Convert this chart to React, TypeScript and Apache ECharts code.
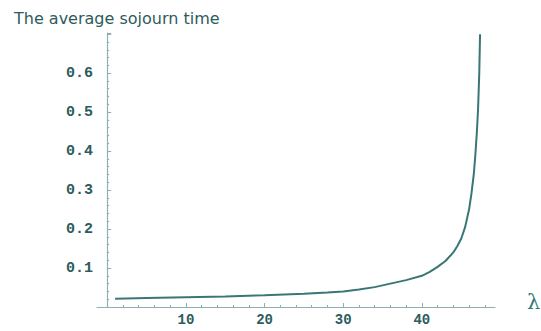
import React, { useEffect, useRef } from "react";
import * as echarts from "echarts";

const lambdaValues = [1, 5, 10, 15, 20, 25, 28, 30, 32, 34, 36, 38, 40, 41, 42, 43, 44, 44.5, 45, 45.5, 46, 46.3, 46.6, 46.8, 47.0, 47.15, 47.3, 47.4];
const sojournValues = [0.021, 0.023, 0.025, 0.027, 0.030, 0.034, 0.037, 0.040, 0.045, 0.051, 0.060, 0.069, 0.080, 0.090, 0.103, 0.118, 0.140, 0.156, 0.175, 0.205, 0.250, 0.290, 0.340, 0.390, 0.450, 0.510, 0.600, 0.700];
const xLabelValues = [10, 20, 30, 40];
const xMinorTickValues = [2, 4, 6, 8, 12, 14, 16, 18, 22, 24, 26, 28, 32, 34, 36, 38, 42, 44, 46, 48];
const yLabelValues = [0.1, 0.2, 0.3, 0.4, 0.5, 0.6];
const titleText = "The average sojourn time";
const xAxisName = "λ";

const axisColor = "#8fb0b0";
const textColor = "#2c5c5c";

export default function App() {
  const ref = useRef<HTMLDivElement>(null);
  useEffect(() => {
    if (!ref.current) return;
    const chart = echarts.init(ref.current, undefined, { renderer: "svg" });
    const data = lambdaValues.map((x, i) => [x, sojournValues[i]]);
    chart.setOption({
      animation: false,
      backgroundColor: "#ffffff",
      title: {
        text: titleText,
        left: 9,
        top: 5,
        textStyle: { fontSize: 16, fontWeight: "normal", fontFamily: "DejaVu Sans", color: textColor },
      },
      grid: { left: 97, right: 46, top: 33, bottom: 24, containLabel: false },
      xAxis: [
        {
          type: "value",
          min: -1.3,
          max: 49.3,
          axisLine: { show: true, onZero: false, lineStyle: { color: axisColor, width: 1.2 } },
          axisTick: { show: true, inside: true, length: 4, customValues: xLabelValues, lineStyle: { color: axisColor } },
          axisLabel: {
            show: true,
            customValues: xLabelValues,
            margin: 6,
            fontFamily: "Liberation Mono",
            fontWeight: "bold",
            fontSize: 14,
            color: textColor,
          },
          splitLine: { show: false },
        },
        {
          type: "value",
          position: "bottom",
          min: -1.3,
          max: 49.3,
          axisLine: { show: false, onZero: false },
          axisTick: { show: true, inside: true, length: 2, customValues: xMinorTickValues, lineStyle: { color: axisColor } },
          axisLabel: { show: false },
          splitLine: { show: false },
        },
      ],
      yAxis: {
        type: "value",
        min: 0,
        max: 0.703,
        interval: 0.1,
        axisLine: { show: true, onZero: true, onZeroAxisIndex: 0, lineStyle: { color: axisColor, width: 1.2 } },
        axisTick: { show: true, inside: true, length: 4, lineStyle: { color: axisColor } },
        minorTick: { show: true, splitNumber: 5, length: 2, lineStyle: { color: axisColor } },
        axisLabel: {
          show: true,
          customValues: yLabelValues,
          margin: 4,
          fontFamily: "Liberation Mono",
          fontWeight: "bold",
          fontSize: 15,
          color: textColor,
          formatter: (v: number) => v.toFixed(1),
        },
        splitLine: { show: false },
      },
      graphic: [
        {
          type: "text",
          left: 527,
          top: 291,
          style: { text: xAxisName, fontSize: 21, fontFamily: "DejaVu Serif", fill: "#2f7a7a" },
        },
      ],
      series: [
        {
          type: "line",
          xAxisIndex: 0,
          yAxisIndex: 0,
          data,
          showSymbol: false,
          smooth: false,
          lineStyle: { color: "#3a7676", width: 2 },
        },
      ],
    });
    return () => chart.dispose();
  }, []);
  return <div ref={ref} style={{ position: "absolute", left: 0, top: 0, width: 541, height: 331 }} />;
}
